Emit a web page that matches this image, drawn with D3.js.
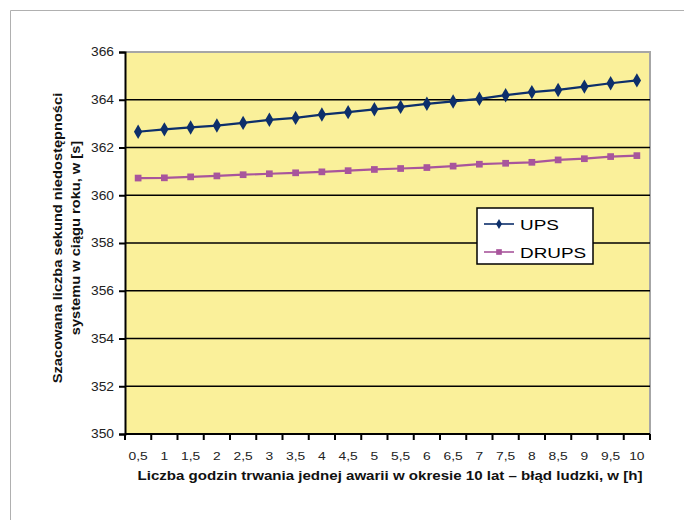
<!DOCTYPE html>
<html>
<head>
<meta charset="utf-8">
<script src="https://cdn.jsdelivr.net/npm/d3@7"></script>
<style>
  body { margin: 0; background: #fff; }
  svg { display: block; font-family: "Liberation Sans", Arial, sans-serif; }
</style>
</head>
<body>
<svg></svg>
<script>
const hours = ['0,5','1','1,5','2','2,5','3','3,5','4','4,5','5','5,5','6','6,5','7','7,5','8','8,5','9','9,5','10'];
const ups = [362.66,362.76,362.84,362.92,363.03,363.16,363.24,363.38,363.48,363.60,
             363.70,363.83,363.93,364.04,364.19,364.32,364.41,364.55,364.69,364.81];
const drups = [360.72,360.73,360.77,360.81,360.86,360.9,360.94,360.98,361.03,361.08,
               361.12,361.16,361.22,361.3,361.34,361.38,361.48,361.53,361.62,361.66];
const yTicks = [350,352,354,356,358,360,362,364,366];

const W = 684, H = 520;
const plot = {left: 125, right: 650, top: 52, bottom: 434};

// the source font is wider than Arial, stretch text along its baseline
function widen(sel, k) {
  sel.each(function () {
    const len = this.getComputedTextLength();
    d3.select(this).attr('textLength', len * k).attr('lengthAdjust', 'spacingAndGlyphs');
  });
}

const svg = d3.select('svg')
              .attr('width', W)
              .attr('height', H);

// outer chart frame
svg.append('path')
   .attr('d', `M10.5,${H} V10.5 H${W}`)
   .attr('fill', 'none')
   .attr('stroke', '#b0b0b0')
   .attr('stroke-width', 1);

const xScale = d3.scaleBand()
                 .domain(hours)
                 .range([plot.left, plot.right]);

const yScale = d3.scaleLinear()
                 .domain([350, 366])
                 .range([plot.bottom, plot.top]);

// plot background
svg.append('rect')
   .attr('x', plot.left)
   .attr('y', plot.top)
   .attr('width', plot.right - plot.left)
   .attr('height', plot.bottom - plot.top)
   .attr('fill', '#faf09a');

// grey border top/right
svg.append('path')
   .attr('d', `M${plot.left},${plot.top} H${plot.right} V${plot.bottom}`)
   .attr('fill', 'none')
   .attr('stroke', '#a6a6a6')
   .attr('stroke-width', 2);

// grid lines
svg.append('g')
   .selectAll('line')
   .data(yTicks.filter(d => d > 350 && d < 366))
   .join('line')
   .attr('x1', plot.left)
   .attr('x2', plot.right)
   .attr('y1', d => yScale(d))
   .attr('y2', d => yScale(d))
   .attr('stroke', '#000')
   .attr('stroke-width', 1.5);

// y axis
const yAxis = svg.append('g')
   .attr('transform', `translate(${plot.left},0)`)
   .call(d3.axisLeft(yScale).tickValues(yTicks).tickSize(6).tickPadding(5).tickFormat(d3.format('d')));
yAxis.select('.domain').attr('stroke', '#000').attr('stroke-width', 2);
yAxis.selectAll('.tick line').attr('stroke-width', 2);
yAxis.selectAll('text').attr('font-size', 12).attr('fill', '#222').attr('font-family', null)
     .call(widen, 1.15);

// x axis: ticks between categories
const bounds = d3.range(hours.length + 1).map(i => plot.left + i * xScale.bandwidth());
const xAxis = svg.append('g');
xAxis.append('line')
     .attr('x1', plot.left).attr('x2', plot.right)
     .attr('y1', plot.bottom).attr('y2', plot.bottom)
     .attr('stroke', '#000').attr('stroke-width', 2);
xAxis.selectAll('.tk')
     .data(bounds)
     .join('line')
     .attr('x1', d => d).attr('x2', d => d)
     .attr('y1', plot.bottom).attr('y2', plot.bottom + 6)
     .attr('stroke', '#000').attr('stroke-width', 2);
xAxis.selectAll('text')
     .data(hours)
     .join('text')
     .attr('x', d => xScale(d) + xScale.bandwidth() / 2)
     .attr('y', 460)
     .attr('text-anchor', 'middle')
     .attr('font-size', 11.5)
     .attr('fill', '#222')
     .text(d => d)
     .call(widen, 1.2);

// series
const series = [
  {name: 'UPS', values: ups, color: '#0d2f6b', shape: d3.symbolDiamond, size: 60, key: 30},
  {name: 'DRUPS', values: drups, color: '#a8559c', shape: d3.symbolSquare, size: 45, key: 32}
];

const line = d3.line()
               .x((d, i) => xScale(hours[i]) + xScale.bandwidth() / 2)
               .y(d => yScale(d));

series.forEach(s => {
  svg.append('path')
     .datum(s.values)
     .attr('d', line)
     .attr('fill', 'none')
     .attr('stroke', s.color)
     .attr('stroke-width', 2.2);
  svg.append('g')
     .selectAll('path')
     .data(s.values)
     .join('path')
     .attr('transform', (d, i) => `translate(${xScale(hours[i]) + xScale.bandwidth() / 2},${yScale(d)})`)
     .attr('d', d3.symbol().type(s.shape).size(s.size))
     .attr('fill', s.color);
});

// legend
const legend = svg.append('g').attr('transform', 'translate(477,208)');
legend.append('rect')
      .attr('width', 116)
      .attr('height', 56)
      .attr('fill', '#fff')
      .attr('stroke', '#000')
      .attr('stroke-width', 1.5);
series.forEach((s, i) => {
  const cy = 16 + i * 28;
  legend.append('line')
        .attr('x1', 7).attr('x2', 37)
        .attr('y1', cy).attr('y2', cy)
        .attr('stroke', s.color).attr('stroke-width', 1.6);
  legend.append('path')
        .attr('transform', `translate(22,${cy})`)
        .attr('d', d3.symbol().type(s.shape).size(s.key))
        .attr('fill', s.color);
  legend.append('text')
        .attr('x', 43)
        .attr('y', cy + 6)
        .attr('font-size', 15.5)
        .attr('fill', '#000')
        .text(s.name)
        .call(widen, 1.22);
});

// axis titles
svg.append('text')
   .attr('x', 390)
   .attr('y', 480)
   .attr('text-anchor', 'middle')
   .attr('font-size', 12)
   .attr('font-weight', 'bold')
   .attr('fill', '#111')
   .text('Liczba godzin trwania jednej awarii w okresie 10 lat – błąd ludzki, w [h]')
   .attr('textLength', 505)
   .attr('lengthAdjust', 'spacingAndGlyphs');

const yTitle = svg.append('g')
   .attr('transform', 'translate(0,238) rotate(-90)')
   .attr('font-size', 12)
   .attr('font-weight', 'bold')
   .attr('fill', '#111');
yTitle.append('text').attr('x', 0).attr('y', 62).attr('text-anchor', 'middle')
      .text('Szacowana liczba sekund niedostępności').call(widen, 1.22);
yTitle.append('text').attr('x', 0).attr('y', 80).attr('text-anchor', 'middle')
      .text('systemu w ciągu roku, w [s]').call(widen, 1.22);
</script>
</body>
</html>
